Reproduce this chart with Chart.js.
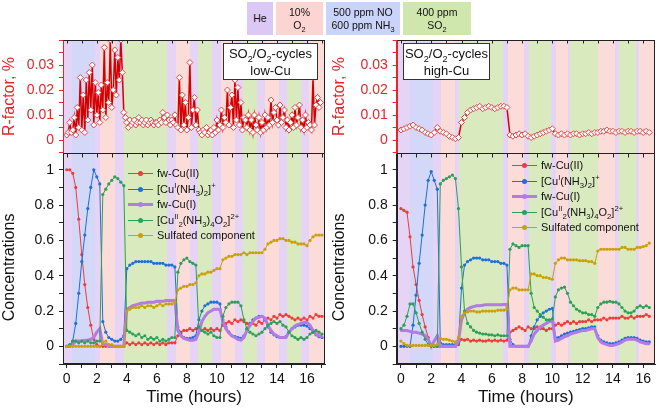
<!DOCTYPE html>
<html>
<head>
<meta charset="utf-8">
<script src="https://cdn.jsdelivr.net/npm/chart.js@4.4.1/dist/chart.umd.min.js"></script>
<style>
  body { margin: 0; background: #fff; font-family: 'Liberation Sans', Arial, sans-serif; }
  #wrap { position: relative; width: 661px; height: 414px; overflow: hidden; }
  canvas { position: absolute; top: 0; }
  .gas { position: absolute; top: 2px; height: 33px; display: flex; flex-direction: column; justify-content: center; align-items: center; font-size: 10.5px; line-height: 12.5px; color: #111; text-align: center; }
  .note { position: absolute; top: 43px; height: 37px; background: #fff; border: 1px solid #333; font-size: 13px; line-height: 17px; text-align: center; box-sizing: border-box; padding-top: 1px; color: #111; }
  .leg { position: absolute; font-size: 11px; line-height: 14px; height: 14px; white-space: nowrap; color: #111; padding-left: 29px; }
  .sw { position: absolute; left: 0; top: 7px; width: 25px; height: 1px; }
  .sw::after { content: ''; position: absolute; left: 10px; top: -2px; width: 5px; height: 5px; border-radius: 50%; background: inherit; }
  .sw.thick { top: 6px; height: 3px; }
  .sw.thick::after { top: -1px; }
  sub, sup { font-size: 0.7em; line-height: 0; }
</style>
</head>
<body>
<div id="wrap">
  <canvas id="cl" width="330" height="414" style="left:0"></canvas>
  <canvas id="cr" width="331" height="414" style="left:330px"></canvas>

  <div class="gas" style="left:247px;width:26px;background:#dcc8f5">He</div>
  <div class="gas" style="left:276px;width:47px;background:#fcd4d2">10%<span>O<sub>2</sub></span></div>
  <div class="gas" style="left:326px;width:74px;background:#cad3fa">500 ppm NO<span>600 ppm NH<sub>3</sub></span></div>
  <div class="gas" style="left:403px;width:68px;background:#cfe7ac">400 ppm<span>SO<sub>2</sub></span></div>

  <div class="note" style="left:223px;width:95px">SO<sub>2</sub>/O<sub>2</sub>-cycles<br>low-Cu</div>
  <div class="note" style="left:403px;width:87px">SO<sub>2</sub>/O<sub>2</sub>-cycles<br>high-Cu</div>

  <div class="leg" style="left:128px;top:166px"><span class="sw" style="background:#ef3b3b"></span>fw-Cu(II)</div>
  <div class="leg" style="left:128px;top:181.5px"><span class="sw" style="background:#1e6fd9"></span>[Cu<sup>I</sup>(NH<sub>3</sub>)<sub>2</sub>]<sup>+</sup></div>
  <div class="leg" style="left:128px;top:197px"><span class="sw thick" style="background:#b47be6"></span>fw-Cu(I)</div>
  <div class="leg" style="left:128px;top:212.5px"><span class="sw" style="background:#2e9f58"></span>[Cu<sup>II</sup><sub>2</sub>(NH<sub>3</sub>)<sub>4</sub>O<sub>2</sub>]<sup>2+</sup></div>
  <div class="leg" style="left:128px;top:228px"><span class="sw" style="background:#c9a10a"></span>Sulfated component</div>

  <div class="leg" style="left:512px;top:158px"><span class="sw" style="background:#ef3b3b"></span>fw-Cu(II)</div>
  <div class="leg" style="left:512px;top:173.5px"><span class="sw" style="background:#1e6fd9"></span>[Cu<sup>I</sup>(NH<sub>3</sub>)<sub>2</sub>]<sup>+</sup></div>
  <div class="leg" style="left:512px;top:189px"><span class="sw thick" style="background:#b47be6"></span>fw-Cu(I)</div>
  <div class="leg" style="left:512px;top:204.5px"><span class="sw" style="background:#2e9f58"></span>[Cu<sup>II</sup><sub>2</sub>(NH<sub>3</sub>)<sub>4</sub>O<sub>2</sub>]<sup>2+</sup></div>
  <div class="leg" style="left:512px;top:220px"><span class="sw" style="background:#c9a10a"></span>Sulfated component</div>
</div>
<script>
// time grid of the concentration curves (hours)
const timeL = [0,0.2,0.4,0.6,0.8,1,1.2,1.4,1.6,1.8,
  2,2.2,2.4,2.6,2.8,3,3.2,3.4,3.6,3.8,
  4,4.2,4.4,4.6,4.8,5,5.2,5.4,5.6,5.8,
  6,6.2,6.4,6.6,6.8,7,7.2,7.4,7.6,7.8,
  8,8.2,8.4,8.6,8.8,9,9.2,9.4,9.6,9.8,
  10,10.2,10.4,10.6,10.8,11,11.2,11.4,11.6,11.8,
  12,12.2,12.4,12.6,12.8,13,13.2,13.4,13.6,13.8,
  14,14.2,14.4,14.6,14.8,15,15.2,15.4,15.6,15.8,
  16,16.2,16.4,16.6,16.8,17];
const timeR = timeL.slice(0, 83);

// low-Cu
const cu2L = [1.00,1.00,0.98,0.90,0.72,0.52,0.35,0.22,0.12,0.04,
  0.01,0.00,0.00,0.00,0.00,0.00,0.00,0.00,0.00,0.00,
  0.02,0.01,0.02,0.01,0.02,0.01,0.02,0.01,0.02,0.01,
  0.02,0.01,0.02,0.01,0.02,0.02,0.02,0.06,0.08,0.09,
  0.09,0.10,0.09,0.10,0.10,0.09,0.10,0.09,0.10,0.09,
  0.10,0.09,0.12,0.13,0.14,0.13,0.15,0.14,0.15,0.14,
  0.13,0.12,0.13,0.12,0.14,0.13,0.15,0.16,0.15,0.17,
  0.16,0.18,0.17,0.18,0.17,0.16,0.15,0.16,0.15,0.16,
  0.15,0.17,0.16,0.18,0.17,0.17];
const cuNH3L = [0.00,0.00,0.03,0.13,0.30,0.48,0.63,0.78,0.90,1.00,
  0.96,0.92,0.14,0.08,0.05,0.04,0.03,0.03,0.04,0.06,
  0.44,0.46,0.47,0.48,0.48,0.48,0.48,0.48,0.48,0.47,
  0.47,0.47,0.47,0.46,0.46,0.46,0.45,0.11,0.07,0.05,
  0.045,0.045,0.05,0.06,0.15,0.20,0.23,0.24,0.25,0.25,
  0.25,0.24,0.15,0.11,0.08,0.06,0.055,0.05,0.045,0.06,
  0.10,0.13,0.15,0.16,0.17,0.17,0.15,0.11,0.08,0.065,
  0.055,0.05,0.05,0.055,0.08,0.10,0.11,0.12,0.12,0.12,
  0.115,0.10,0.08,0.065,0.055,0.05];
const cu1L = [0.00,0.00,0.01,0.03,0.03,0.03,0.035,0.035,0.04,0.05,
  0.08,0.10,0.01,0.01,0.00,0.00,0.00,0.00,0.00,0.00,
  0.21,0.22,0.23,0.235,0.24,0.245,0.245,0.25,0.25,0.25,
  0.255,0.255,0.255,0.26,0.26,0.26,0.26,0.09,0.06,0.045,
  0.04,0.035,0.035,0.04,0.08,0.14,0.17,0.19,0.20,0.21,
  0.21,0.21,0.14,0.10,0.075,0.06,0.05,0.04,0.035,0.05,
  0.09,0.12,0.14,0.16,0.165,0.17,0.16,0.12,0.09,0.07,
  0.06,0.05,0.05,0.05,0.08,0.10,0.115,0.125,0.13,0.135,
  0.135,0.12,0.09,0.07,0.06,0.055];
const dimerL = [0.00,0.01,0.03,0.03,0.02,0.03,0.02,0.03,0.02,0.02,
  0.03,0.03,0.86,0.89,0.92,0.94,0.96,0.95,0.93,0.91,
  0.09,0.08,0.07,0.06,0.07,0.05,0.06,0.04,0.05,0.04,
  0.05,0.03,0.04,0.03,0.04,0.05,0.05,0.42,0.47,0.49,
  0.50,0.48,0.47,0.46,0.11,0.09,0.08,0.07,0.08,0.06,
  0.05,0.05,0.17,0.22,0.24,0.25,0.25,0.25,0.23,0.15,
  0.10,0.08,0.07,0.06,0.07,0.08,0.10,0.12,0.13,0.14,
  0.13,0.14,0.12,0.11,0.08,0.06,0.05,0.04,0.05,0.04,
  0.05,0.07,0.08,0.09,0.08,0.07];
const sulfL = [0,0,0,0,0,0,0,0,0,0,
  0.00,0.00,0.02,0.03,0.01,0.01,0.00,0.00,0.00,0.00,
  0.20,0.21,0.22,0.22,0.22,0.23,0.22,0.23,0.23,0.22,
  0.23,0.24,0.23,0.24,0.24,0.24,0.25,0.32,0.33,0.34,
  0.34,0.35,0.35,0.36,0.40,0.41,0.41,0.42,0.42,0.43,
  0.44,0.44,0.49,0.50,0.51,0.51,0.52,0.52,0.52,0.53,
  0.52,0.53,0.53,0.53,0.53,0.53,0.55,0.58,0.59,0.60,
  0.60,0.61,0.61,0.60,0.60,0.59,0.59,0.58,0.58,0.58,
  0.57,0.60,0.62,0.63,0.63,0.63];

// high-Cu
const cu2R = [0.78,0.77,0.76,0.62,0.45,0.35,0.26,0.18,0.11,0.05,
  0.01,0.00,0.00,0.00,0.00,0.00,0.00,0.00,0.00,0.01,
  0.04,0.035,0.04,0.03,0.035,0.03,0.035,0.03,0.03,0.035,
  0.03,0.035,0.03,0.035,0.03,0.035,0.08,0.09,0.10,0.11,
  0.10,0.09,0.11,0.10,0.10,0.11,0.10,0.10,0.09,0.10,
  0.10,0.12,0.13,0.12,0.13,0.14,0.13,0.14,0.13,0.14,
  0.14,0.14,0.15,0.14,0.15,0.15,0.15,0.16,0.15,0.16,
  0.16,0.16,0.16,0.17,0.16,0.16,0.17,0.16,0.17,0.17,
  0.17,0.18,0.17];
const cuNH3R = [0.00,0.00,0.00,0.00,0.12,0.29,0.47,0.63,0.80,0.94,
  0.99,0.94,0.89,0.02,0.01,0.01,0.01,0.01,0.01,0.02,
  0.33,0.46,0.48,0.49,0.50,0.50,0.50,0.49,0.49,0.49,
  0.48,0.48,0.48,0.47,0.47,0.46,0.04,0.01,0.00,0.00,
  0.00,0.00,0.00,0.06,0.11,0.15,0.17,0.19,0.20,0.21,
  0.215,0.05,0.05,0.06,0.07,0.075,0.08,0.085,0.09,0.095,
  0.10,0.10,0.105,0.11,0.11,0.06,0.035,0.025,0.02,0.015,
  0.015,0.02,0.025,0.035,0.045,0.05,0.05,0.05,0.045,0.035,
  0.03,0.025,0.025];
const cu1R = [0.09,0.09,0.09,0.085,0.08,0.08,0.075,0.07,0.06,0.04,
  0.00,0.03,0.06,0.00,0.00,0.00,0.00,0.00,0.00,0.03,
  0.15,0.19,0.21,0.22,0.225,0.23,0.23,0.233,0.235,0.235,
  0.235,0.236,0.236,0.236,0.237,0.237,0.00,0.00,0.00,0.00,
  0.00,0.00,0.00,0.03,0.07,0.09,0.11,0.12,0.13,0.14,
  0.15,0.03,0.035,0.045,0.055,0.06,0.07,0.075,0.08,0.085,
  0.09,0.09,0.095,0.10,0.10,0.05,0.025,0.015,0.01,0.005,
  0.005,0.01,0.015,0.025,0.035,0.04,0.04,0.04,0.035,0.025,
  0.02,0.015,0.015];
const dimerR = [0.10,0.12,0.17,0.24,0.24,0.19,0.13,0.08,0.04,0.01,
  0.00,0.00,0.00,0.92,0.94,0.95,0.96,0.97,0.95,0.78,
  0.45,0.20,0.13,0.11,0.09,0.08,0.075,0.07,0.07,0.065,
  0.065,0.06,0.065,0.06,0.06,0.06,0.55,0.58,0.57,0.56,
  0.57,0.57,0.57,0.30,0.22,0.20,0.18,0.165,0.15,0.15,
  0.155,0.28,0.32,0.33,0.335,0.30,0.25,0.23,0.21,0.20,
  0.19,0.19,0.18,0.18,0.17,0.22,0.24,0.25,0.25,0.255,
  0.25,0.25,0.24,0.22,0.20,0.19,0.19,0.20,0.22,0.23,
  0.22,0.23,0.22];
const sulfR = [0.03,0.015,0.005,0.005,0.005,0.005,0.005,0.005,0.005,0.005,
  0.005,0.005,0.01,0.045,0.04,0.04,0.035,0.03,0.025,0.05,
  0.17,0.19,0.195,0.20,0.20,0.195,0.195,0.20,0.20,0.20,
  0.20,0.20,0.205,0.205,0.205,0.21,0.32,0.33,0.33,0.32,
  0.32,0.32,0.32,0.41,0.41,0.40,0.40,0.39,0.39,0.385,
  0.38,0.47,0.49,0.50,0.50,0.49,0.49,0.49,0.49,0.485,
  0.485,0.485,0.48,0.48,0.47,0.54,0.55,0.55,0.55,0.55,
  0.55,0.55,0.55,0.56,0.56,0.55,0.55,0.55,0.56,0.56,
  0.565,0.57,0.585];

// R-factor (%)
const rTimeL = [0,0.1,0.2,0.3,0.4,0.5,0.6,0.7,0.8,0.9,
  1,1.1,1.2,1.3,1.4,1.5,1.6,1.7,1.8,1.9,
  2,2.1,2.2,2.3,2.4,2.5,2.6,2.7,2.8,2.9,
  3,3.1,3.2,3.3,3.4,3.5,3.6,3.7,3.8,3.9,
  4,4.1,4.2,4.3,4.4,4.5,4.6,4.7,4.8,4.9,
  5,5.1,5.2,5.3,5.4,5.5,5.6,5.7,5.8,5.9,
  6,6.1,6.2,6.3,6.4,6.5,6.6,6.7,6.8,6.9,
  7,7.1,7.2,7.3,7.4,7.5,7.6,7.7,7.8,7.9,
  8,8.1,8.2,8.3,8.4,8.5,8.6,8.7,8.8,8.9,
  9,9.1,9.2,9.3,9.4,9.5,9.6,9.7,9.8,9.9,
  10,10.1,10.2,10.3,10.4,10.5,10.6,10.7,10.8,10.9,
  11,11.1,11.2,11.3,11.4,11.5,11.6,11.7,11.8,11.9,
  12,12.1,12.2,12.3,12.4,12.5,12.6,12.7,12.8,12.9,
  13,13.1,13.2,13.3,13.4,13.5,13.6,13.7,13.8,13.9,
  14,14.1,14.2,14.3,14.4,14.5,14.6,14.7,14.8,14.9,
  15,15.1,15.2,15.3,15.4,15.5,15.6,15.7,15.8,15.9,
  16,16.1,16.2,16.3,16.4,16.5,16.6,16.7,16.8,16.9];
const rFactorL = [0.002,0.003,0.007,0.003,0.004,0.009,0.002,0.013,0.005,0.025,
  0.004,0.018,0.003,0.024,0.008,0.027,0.012,0.030,0.006,0.023,
  0.010,0.019,0.007,0.022,0.012,0.037,0.009,0.023,0.015,0.040,
  0.013,0.020,0.036,0.018,0.033,0.024,0.040,0.027,0.011,0.009,
  0.007,0.005,0.008,0.006,0.007,0.008,0.006,0.007,0.009,0.007,
  0.008,0.006,0.007,0.008,0.006,0.007,0.008,0.007,0.006,0.007,
  0.007,0.006,0.008,0.007,0.011,0.009,0.007,0.010,0.008,0.006,
  0.008,0.007,0.010,0.006,0.005,0.025,0.004,0.018,0.006,0.015,
  0.004,0.009,0.031,0.005,0.012,0.017,0.006,0.012,0.004,0.003,
  0.002,0.004,0.003,0.005,0.002,0.003,0.004,0.002,0.005,0.003,
  0.008,0.004,0.006,0.012,0.005,0.009,0.007,0.020,0.006,0.013,
  0.018,0.005,0.024,0.008,0.021,0.006,0.015,0.004,0.009,0.008,
  0.005,0.010,0.004,0.008,0.003,0.010,0.006,0.004,0.009,0.003,
  0.007,0.004,0.010,0.005,0.009,0.006,0.016,0.007,0.011,0.013,
  0.008,0.006,0.014,0.007,0.009,0.012,0.005,0.008,0.004,0.007,
  0.010,0.005,0.013,0.006,0.009,0.014,0.005,0.008,0.004,0.010,
  0.005,0.007,0.006,0.004,0.025,0.006,0.014,0.017,0.013,0.015];
const rFactorR = [0.004,0.0045,0.005,0.0055,0.006,0.005,0.0045,0.004,0.003,0.0025,
  0.002,0.003,0.005,0.0035,0.003,0.0025,0.0015,0.001,0.0005,0.001,
  0.007,0.009,0.011,0.012,0.0125,0.013,0.0135,0.0125,0.013,0.0135,
  0.013,0.0125,0.013,0.0135,0.0135,0.013,0.002,0.0015,0.002,0.0025,
  0.002,0.0025,0.0015,0.001,0.0015,0.002,0.0025,0.003,0.0035,0.004,
  0.0045,0.0025,0.002,0.0025,0.002,0.0025,0.002,0.0025,0.0025,0.002,
  0.0025,0.0025,0.003,0.0025,0.003,0.003,0.0035,0.0035,0.004,0.0035,
  0.0035,0.003,0.0035,0.0035,0.003,0.0035,0.0035,0.003,0.0035,0.0035,
  0.003,0.0035,0.003];

// gas feed periods: edges in hours and the gas of each period
const bandEdgesL = [-0.25,0.33,1.86,2.24,3.24,3.8,6.71,7.27,8.23,8.72,9.68,10.29,11.18,11.72,12.68,13.2,14.16,14.65,15.61,16.15,17.2];
const bandGasL = ['He','NO','He','O2','He','SO2','He','O2','He','SO2','He','O2','He','SO2','He','O2','He','SO2','He','O2'];
const bandEdgesR = [-0.28,0.59,2.14,2.64,3.57,3.85,6.76,7.09,8.15,8.45,9.91,10.22,11.01,11.16,13.03,14.13,14.42,15.52,15.74,16.78];
const bandGasR = ['He','NO','He','O2','He','SO2','He','O2','He','SO2','He','O2','He','SO2','O2','He','SO2','He','O2'];

const bandFill = { He: '#e5d4f6', O2: '#fbdcd8', NO: '#d3d8f9', SO2: '#d9eabf' };
const rColor = '#e3262a';
const font = "'Liberation Sans', Arial, sans-serif";
Chart.defaults.font.family = font;
Chart.defaults.color = '#111';

const bandsPlugin = {
  id: 'bands',
  beforeDatasetsDraw(chart, args, opts) {
    const { ctx, chartArea: a, scales: { x } } = chart;
    ctx.save();
    ctx.beginPath();
    ctx.rect(a.left, a.top, a.width, a.height);
    ctx.clip();
    opts.gas.forEach((g, i) => {
      const x0 = Math.round(x.getPixelForValue(opts.edges[i]));
      const x1 = Math.round(x.getPixelForValue(opts.edges[i + 1]));
      ctx.fillStyle = bandFill[g];
      ctx.fillRect(x0, a.top, x1 - x0, a.height);
    });
    ctx.restore();
  }
};

const framePlugin = {
  id: 'frame',
  afterDatasetsDraw(chart) {
    const { ctx, chartArea: a, scales } = chart;
    const l = Math.round(a.left) + 0.5, r = Math.round(a.right) - 0.5;
    const t = Math.round(a.top) + 0.5, b = Math.round(a.bottom) - 0.5;
    const sep = Math.round(scales.yr.bottom) + 0.5;
    ctx.save();
    ctx.lineWidth = 1;
    ctx.strokeStyle = '#222';
    ctx.strokeRect(l, t, r - l, b - t);
    ctx.beginPath();
    ctx.moveTo(l, sep); ctx.lineTo(r, sep);
    scales.x.ticks.forEach(tk => {
      const px = Math.round(scales.x.getPixelForValue(tk.value)) + 0.5;
      ctx.moveTo(px, sep); ctx.lineTo(px, sep + 4);
      ctx.moveTo(px, t); ctx.lineTo(px, t + 3);
    });
    ctx.stroke();
    ctx.strokeStyle = rColor;
    ctx.beginPath();
    ctx.moveTo(l, t); ctx.lineTo(l, sep - 0.5);
    ctx.stroke();
    ctx.restore();
  }
};

function keepSteps(step) {
  return s => { s.ticks = s.ticks.filter(t => Math.abs(t.value / step - Math.round(t.value / step)) < 1e-6); };
}

function conc(times, vals, color, width, radius, order) {
  return {
    data: times.map((x, i) => ({ x, y: vals[i] })),
    yAxisID: 'yc', borderColor: color, backgroundColor: color, borderWidth: width,
    pointRadius: radius, pointBorderWidth: 0, pointHoverRadius: 0, order
  };
}

function rfac(times, vals) {
  return {
    data: times.map((x, i) => ({ x, y: vals[i] })),
    yAxisID: 'yr', borderColor: '#d40000', borderWidth: 1.5,
    pointStyle: 'rectRot', pointRadius: 3, pointBackgroundColor: '#fff',
    pointBorderColor: '#e64545', pointBorderWidth: 1, pointHoverRadius: 0, order: 0
  };
}

function makeChart(id, o) {
  return new Chart(document.getElementById(id), {
    type: 'line',
    data: {
      datasets: [
        rfac(o.rTimes, o.rVals),
        conc(o.times, o.cu2, '#ef3b3b', 1, 1.6, 5),
        conc(o.times, o.cuNH3, '#1e6fd9', 1, 1.6, 4),
        conc(o.times, o.cu1, '#b47be6', 3, 1.2, 3),
        conc(o.times, o.dimer, '#2e9f58', 1, 1.6, 2),
        conc(o.times, o.sulf, '#c9a10a', 1, 1.6, 1)
      ]
    },
    options: {
      responsive: false,
      animation: false,
      events: [],
      devicePixelRatio: 1,
      layout: { padding: { top: 40, right: o.padRight, left: 0, bottom: 0 } },
      plugins: {
        legend: { display: false },
        tooltip: { enabled: false },
        bands: { edges: o.edges, gas: o.gas }
      },
      scales: {
        x: {
          type: 'linear', position: 'bottom', min: o.xMin, max: o.xMax,
          afterBuildTicks: keepSteps(1),
          afterFit: s => { s.height = 50; },
          ticks: { stepSize: 1, includeBounds: false, autoSkip: false, maxRotation: 0, padding: 3, font: { size: 14 },
                   callback: v => (Math.round(v) % 2 === 0 ? String(Math.round(v)) : '') },
          grid: { drawOnChartArea: false, tickLength: 4, color: '#222' },
          border: { color: '#222' },
          title: { display: true, text: 'Time (hours)', font: { size: 17 }, padding: { top: 0, bottom: 6 } }
        },
        yc: {
          type: 'linear', position: 'left', stack: 'panels', stackWeight: 211,
          min: -0.1, max: 1.095,
          afterBuildTicks: keepSteps(0.1),
          afterFit: s => { s.width = o.yWidth; },
          ticks: { stepSize: 0.1, includeBounds: false, autoSkip: false, padding: 5, font: { size: 14 },
                   callback: v => { const k = Math.round(v * 10); return k % 2 ? '' : (k === 0 ? '0' : k === 10 ? '1' : (k / 10).toFixed(1)); } },
          grid: { drawOnChartArea: false, tickLength: 4, color: '#222' },
          border: { color: '#222' },
          title: { display: true, text: 'Concentrations\u00a0\u00a0\u00a0\u00a0', font: { size: 16 }, padding: 0 }
        },
        yr: {
          type: 'linear', position: 'left', stack: 'panels', stackWeight: 113,
          min: -0.0052, max: 0.04,
          afterBuildTicks: keepSteps(0.005),
          afterFit: s => { s.width = o.yWidth; },
          ticks: { stepSize: 0.005, includeBounds: false, autoSkip: false, padding: 5, color: rColor, font: { size: 14 },
                   callback: v => { const k = Math.round(v * 1000); return (k % 10 || k >= 40) ? '' : (k === 0 ? '0' : (k / 1000).toFixed(2)); } },
          grid: { drawOnChartArea: false, tickLength: 4, color: rColor },
          border: { color: rColor },
          title: { display: true, text: 'R-factor, %', color: rColor, font: { size: 16 }, padding: 0 }
        }
      }
    },
    plugins: [bandsPlugin, framePlugin]
  });
}

makeChart('cl', {
  times: timeL, cu2: cu2L, cuNH3: cuNH3L, cu1: cu1L, dimer: dimerL, sulf: sulfL,
  rTimes: rTimeL, rVals: rFactorL, edges: bandEdgesL, gas: bandGasL,
  xMin: -0.25, xMax: 17.2, yWidth: 63, padRight: 5
});
makeChart('cr', {
  times: timeR, cu2: cu2R, cuNH3: cuNH3R, cu1: cu1R, dimer: dimerR, sulf: sulfR,
  rTimes: timeR, rVals: rFactorR, edges: bandEdgesR, gas: bandGasR,
  xMin: -0.28, xMax: 16.78, yWidth: 66.7, padRight: 6
});
</script>
</body>
</html>
